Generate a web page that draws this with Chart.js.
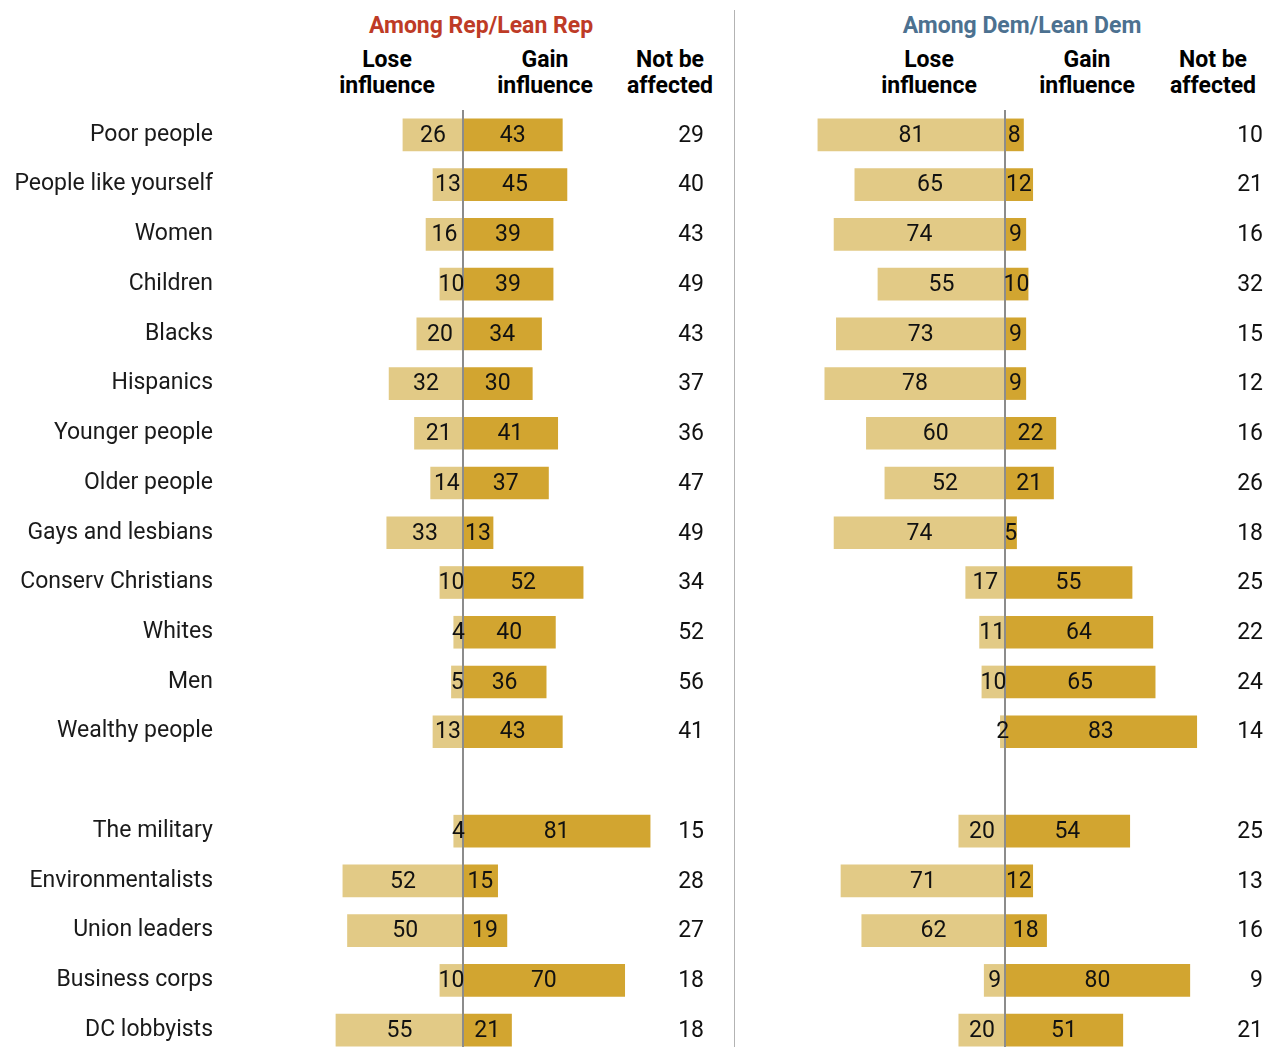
<!DOCTYPE html>
<html>
<head>
<meta charset="utf-8">
<title>Influence by group</title>
<script src="https://cdn.jsdelivr.net/npm/chart.js@4/dist/chart.umd.min.js"></script>
<style>
  html, body { margin: 0; padding: 0; background: #fff; overflow: hidden; }
  body { width: 1273px; height: 1047px; position: relative; font-family: Roboto, 'Liberation Sans', sans-serif; color: #111; }
  #chart-rep { position: absolute; left: 0; top: 0; }
  #chart-dem { position: absolute; left: 735px; top: 0; }
  .divider { position: absolute; left: 734px; top: 10px; width: 1px; height: 1037px; background: #b3b3b3; }
  .title { position: absolute; top: 12px; font-weight: bold; font-size: 23px; line-height: 28px; white-space: nowrap; transform: translateX(-50%); }
  .title.rep { color: #be3b26; }
  .title.dem { color: #4c7190; }
  .col-head { position: absolute; top: 47px; font-weight: bold; font-size: 23px; line-height: 26px; text-align: center; white-space: nowrap; transform: translateX(-50%); color: #000; }
</style>
</head>
<body>
<div class="title rep" style="left:481px">Among Rep/Lean Rep</div>
<div class="title dem" style="left:1022px">Among Dem/Lean Dem</div>

<div class="col-head" style="left:387px">Lose<br>influence</div>
<div class="col-head" style="left:545px">Gain<br>influence</div>
<div class="col-head" style="left:670px">Not be<br>affected</div>
<div class="col-head" style="left:929px">Lose<br>influence</div>
<div class="col-head" style="left:1087px">Gain<br>influence</div>
<div class="col-head" style="left:1213px">Not be<br>affected</div>

<div class="divider"></div>

<canvas id="chart-rep" width="735" height="1060"></canvas>
<canvas id="chart-dem" width="538" height="1060"></canvas>

<script>
// groups, with an empty slot separating people from institutions
var groups = [
  'Poor people', 'People like yourself', 'Women', 'Children', 'Blacks',
  'Hispanics', 'Younger people', 'Older people', 'Gays and lesbians',
  'Conserv Christians', 'Whites', 'Men', 'Wealthy people', '',
  'The military', 'Environmentalists', 'Union leaders', 'Business corps', 'DC lobbyists'
];

var repLose = [26, 13, 16, 10, 20, 32, 21, 14, 33, 10, 4, 5, 13, null, 4, 52, 50, 10, 55];
var repGain = [43, 45, 39, 39, 34, 30, 41, 37, 13, 52, 40, 36, 43, null, 81, 15, 19, 70, 21];
var repNone = [29, 40, 43, 49, 43, 37, 36, 47, 49, 34, 52, 56, 41, null, 15, 28, 27, 18, 18];

var demLose = [81, 65, 74, 55, 73, 78, 60, 52, 74, 17, 11, 10, 2, null, 20, 71, 62, 9, 20];
var demGain = [8, 12, 9, 10, 9, 9, 22, 21, 5, 55, 64, 65, 83, null, 54, 12, 18, 80, 51];
var demNone = [10, 21, 16, 32, 15, 12, 16, 26, 18, 25, 22, 24, 14, null, 25, 13, 16, 9, 21];

var LOSE_COLOR = '#e2ca86';
var GAIN_COLOR = '#d2a530';
var FONT = "Roboto, 'Liberation Sans', sans-serif";

function negate(arr) {
  return arr.map(function (v) { return v === null ? null : -v; });
}

// zero line, in-bar numbers and the "not be affected" column
var panelExtras = {
  id: 'panelExtras',
  afterDatasetsDraw: function (chart, args, opts) {
    var ctx = chart.ctx;
    var area = chart.chartArea;
    var x0 = chart.scales.x.getPixelForValue(0);

    ctx.save();
    ctx.strokeStyle = '#8c8c8c';
    ctx.lineWidth = 2;
    ctx.beginPath();
    ctx.moveTo(x0, area.top);
    ctx.lineTo(x0, chart.height);
    ctx.stroke();

    ctx.font = '23px ' + FONT;
    ctx.fillStyle = '#111';
    ctx.textBaseline = 'middle';
    ctx.textAlign = 'center';
    chart.data.datasets.forEach(function (ds, di) {
      var meta = chart.getDatasetMeta(di);
      meta.data.forEach(function (bar, i) {
        var v = ds.data[i];
        if (v === null || v === undefined) return;
        ctx.fillText(String(Math.abs(v)), (bar.x + bar.base) / 2, bar.y + 1);
      });
    });

    ctx.textAlign = 'right';
    (opts.none || []).forEach(function (v, i) {
      if (v === null) return;
      ctx.fillText(String(v), area.right, chart.scales.y.getPixelForValue(i) + 1);
    });
    ctx.restore();
  }
};

function makePanel(el, lose, gain, none, xMin, xMax, showLabels, padLeft, padRight) {
  return new Chart(el, {
    type: 'bar',
    data: {
      labels: groups,
      datasets: [
        { label: 'Lose influence', data: negate(lose), backgroundColor: LOSE_COLOR, barThickness: 32, borderWidth: 0 },
        { label: 'Gain influence', data: gain, backgroundColor: GAIN_COLOR, barThickness: 32, borderWidth: 0 }
      ]
    },
    options: {
      indexAxis: 'y',
      responsive: false,
      animation: false,
      layout: { padding: { left: padLeft, right: padRight, top: 110, bottom: 5 } },
      plugins: {
        legend: { display: false },
        tooltip: { enabled: false },
        panelExtras: { none: none }
      },
      scales: {
        x: {
          stacked: true,
          min: xMin,
          max: xMax,
          display: false
        },
        y: {
          stacked: true,
          display: showLabels,
          grid: { display: false, drawTicks: false },
          border: { display: false },
          ticks: {
            color: '#1a1a1a',
            padding: 10,
            font: { family: FONT, size: 23 }
          },
          afterFit: function (scale) {
            if (!showLabels) return;
            scale.width = 223;
            // keep both panels' rows on the same grid
            scale.paddingTop = 0;
            scale.paddingBottom = 0;
          }
        }
      }
    },
    plugins: [panelExtras]
  });
}

var PX_PER_UNIT = 2.31;
// Rep panel: plot area 223..704, zero at 463
makePanel(document.getElementById('chart-rep'), repLose, repGain, repNone,
  -240 / PX_PER_UNIT, 241 / PX_PER_UNIT, true, 0, 31);
// Dem panel: plot area 0..528 (page 735..1263), zero at 270 (page 1005)
makePanel(document.getElementById('chart-dem'), demLose, demGain, demNone,
  -270 / PX_PER_UNIT, 258 / PX_PER_UNIT, false, 0, 10);
</script>
</body>
</html>
